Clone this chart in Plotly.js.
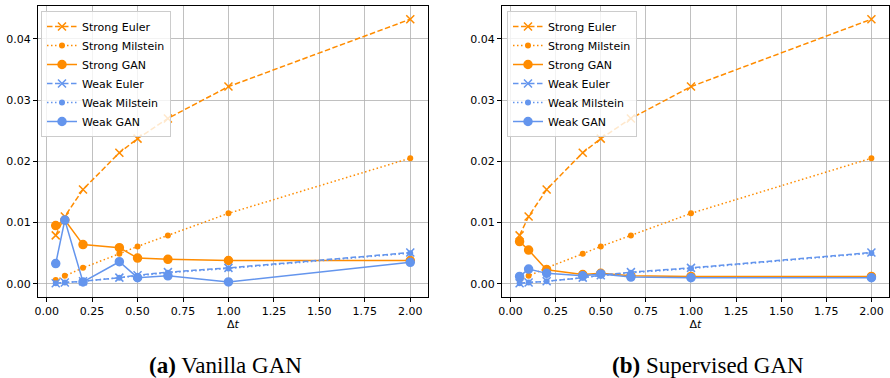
<!DOCTYPE html>
<html>
<head>
<meta charset="utf-8">
<script src="https://cdn.plot.ly/plotly-3.0.1.min.js"></script>
<style>html,body{margin:0;padding:0;background:#fff;}#chart{width:890px;height:378px;}</style>
</head>
<body>
<div id="chart"></div>
<script>
// ---- data ----
const dt = [0.05, 0.1, 0.2, 0.4, 0.5, 0.667, 1.0, 2.0];
const strongEuler    = [0.0079, 0.0110, 0.0154, 0.0214, 0.0237, 0.0270, 0.0322, 0.0432];
const strongMilstein = [0.0006, 0.0013, 0.0026, 0.0049, 0.0061, 0.0079, 0.0115, 0.0205];
const weakEuler      = [0.0001, 0.0002, 0.0004, 0.0010, 0.0014, 0.0019, 0.0026, 0.0051];
const weakMilstein   = [0.0001, 0.0002, 0.0004, 0.0010, 0.0013, 0.0018, 0.0025, 0.0050];
// (a) Vanilla GAN
const strongGanVanilla = [0.0095, 0.0104, 0.0064, 0.0059, 0.0042, 0.0040, 0.0038, 0.0038];
const weakGanVanilla   = [0.0033, 0.0104, 0.0003, 0.0036, 0.0010, 0.0013, 0.0003, 0.0035];
// (b) Supervised GAN
const strongGanSup = [0.0069, 0.0055, 0.0023, 0.0015, 0.0017, 0.0013, 0.0012, 0.0012];
const weakGanSup   = [0.0012, 0.0024, 0.0017, 0.0013, 0.0016, 0.0011, 0.0010, 0.0010];
const seriesNames = ["Strong Euler", "Strong Milstein", "Strong GAN", "Weak Euler", "Weak Milstein", "Weak GAN"];
const captions = ["<b>(a)</b> Vanilla GAN", "<b>(b)</b> Supervised GAN"];

// ---- styles ----
const ORANGE = "#FF8C00", BLUE = "#6495ED";
const DASH = "5.5px,2.5px", DOT = "1.5px,2.5px";

function makeTraces(strongGan, weakGan, xa, ya, leg) {
  const sets = [
    [strongEuler, ORANGE, DASH, "x-thin-open", 8],
    [strongMilstein, ORANGE, DOT, "circle", 4.5],
    [strongGan, ORANGE, "solid", "circle", 8],
    [weakEuler, BLUE, DASH, "x-thin-open", 8],
    [weakMilstein, BLUE, DOT, "circle", 4.5],
    [weakGan, BLUE, "solid", "circle", 8]
  ];
  return sets.map((s, i) => ({
    type: "scatter", mode: "lines+markers",
    x: dt, y: s[0], name: seriesNames[i],
    xaxis: xa, yaxis: ya, legend: leg,
    line: {color: s[1], dash: s[2], width: 1.5},
    marker: {color: s[1], symbol: s[3], size: s[4], line: {color: s[1], width: 1.5}}
  }));
}

const traces = makeTraces(strongGanVanilla, weakGanVanilla, "x", "y", "legend")
  .concat(makeTraces(strongGanSup, weakGanSup, "x2", "y2", "legend2"));

const tickFont = {family: "DejaVu Sans", size: 11, color: "#000"};
function xAxis(domain, anchor) {
  return {
    domain: domain, anchor: anchor, range: [-0.0475, 2.0975],
    tickmode: "linear", tick0: 0, dtick: 0.25, tickformat: ".2f",
    showgrid: true, gridcolor: "#b0b0b0", gridwidth: 0.8, zeroline: false,
    showline: true, linecolor: "#000", linewidth: 1, mirror: true,
    ticks: "outside", ticklen: 4, tickcolor: "#000", tickfont: tickFont,
    title: {text: "Δ<i>t</i>", font: tickFont, standoff: 1}
  };
}
function yAxis(domain, anchor) {
  return {
    domain: domain, anchor: anchor, range: [-0.00216, 0.04536],
    tickmode: "linear", tick0: 0, dtick: 0.01, tickformat: ".2f",
    showgrid: true, gridcolor: "#b0b0b0", gridwidth: 0.8, zeroline: false,
    showline: true, linecolor: "#000", linewidth: 1, mirror: true,
    ticks: "outside", ticklen: 4, tickcolor: "#000", tickfont: tickFont
  };
}
const yDom = [1 - 297/378, 1 - 6/378];
const legendStyle = (x) => ({
  x: x, y: 1 - 11/378, xanchor: "left", yanchor: "top", xref: "paper", yref: "paper",
  bgcolor: "rgba(255,255,255,0.8)", bordercolor: "#cccccc", borderwidth: 1,
  font: {family: "DejaVu Sans", size: 11, color: "#000"}, tracegroupgap: 0, itemwidth: 30
});

const captionFont = {family: "Liberation Serif", size: 23, color: "#000"};
const layout = {
  width: 890, height: 378,
  margin: {l: 0, r: 0, t: 0, b: 0},
  paper_bgcolor: "#fff", plot_bgcolor: "#fff",
  xaxis: xAxis([38/890, 428/890], "y"),
  yaxis: yAxis(yDom, "x"),
  xaxis2: xAxis([502/890, 889/890], "y2"),
  yaxis2: yAxis(yDom, "x2"),
  showlegend: true,
  legend: legendStyle(41/890),
  legend2: legendStyle(507/890),
  annotations: [
    {text: captions[0], x: 225/890, y: 1 - 365/378, xref: "paper", yref: "paper",
     showarrow: false, xanchor: "center", yanchor: "middle", font: captionFont},
    {text: captions[1], x: 708/890, y: 1 - 365/378, xref: "paper", yref: "paper",
     showarrow: false, xanchor: "center", yanchor: "middle", font: captionFont}
  ]
};

Plotly.newPlot("chart", traces, layout, {staticPlot: true, displayModeBar: false});
</script>
</body>
</html>
